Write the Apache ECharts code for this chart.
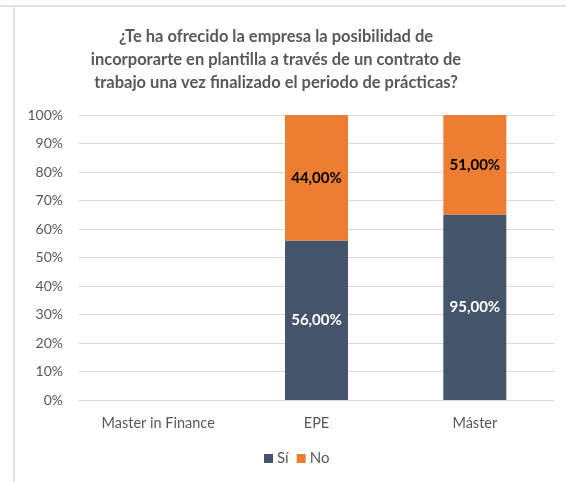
<!DOCTYPE html>
<html>
<head>
<meta charset="utf-8">
<script src="https://cdn.jsdelivr.net/npm/echarts@6/dist/echarts.min.js"></script>
<style>
  html, body { margin: 0; padding: 0; background: #fff; }
  #chart { width: 566px; height: 482px; }
</style>
</head>
<body>
<div id="chart"></div>
<script>
const titleText = '¿Te ha ofrecido la empresa la posibilidad de\nincorporarte en plantilla a través de un contrato de\ntrabajo una vez finalizado el periodo de prácticas?'
const categories = ['Master in Finance', 'EPE', 'Máster']
const siValues = [0, 56, 95]
const noValues = [0, 44, 51]
const seriesNames = ['Sí', 'No']

const FONT = 'Lato, "Open Sans", sans-serif'
const GREY = '#595959'

// el gráfico es 100% apilado: la altura es la cuota, la etiqueta el valor original
function share(v, i) {
  const total = siValues[i] + noValues[i]
  return total ? v / total * 100 : 0
}

function pct(v) {
  return v.toFixed(2).replace('.', ',') + '%'
}

function buildData(values, labelColor) {
  return values.map((v, i) => ({
    value: share(v, i),
    raw: v,
    label: { show: v > 0, color: labelColor }
  }))
}

const chart = echarts.init(document.getElementById('chart'))

const barLabel = {
  position: 'inside',
  fontWeight: 'bold',
  fontSize: 15,
  fontFamily: FONT,
  formatter: p => pct(p.data.raw)
}

chart.setOption({
  animation: false,
  textStyle: { fontFamily: FONT },
  title: {
    text: titleText,
    left: 271,
    top: 20,
    textAlign: 'center',
    textStyle: { fontSize: 16.5, fontWeight: 'bold', color: GREY, lineHeight: 23, fontFamily: FONT }
  },
  legend: {
    data: seriesNames,
    bottom: 11,
    left: 259,
    itemWidth: 9,
    itemHeight: 9,
    itemGap: 8,
    icon: 'rect',
    textStyle: { fontSize: 15, color: GREY, fontFamily: FONT, padding: [0, 0, 0, -1] }
  },
  grid: { left: 79, right: 12, top: 115, bottom: 82, containLabel: false },
  xAxis: {
    type: 'category',
    data: categories,
    axisLine: { lineStyle: { color: '#d9d9d9' } },
    axisTick: { show: false },
    axisLabel: { color: GREY, fontSize: 14.5, margin: 16, fontFamily: FONT }
  },
  yAxis: {
    type: 'value',
    min: 0,
    max: 100,
    interval: 10,
    axisLine: { show: false },
    axisTick: { show: false },
    axisLabel: { formatter: '{value}%', color: GREY, fontSize: 14, margin: 16, fontFamily: FONT },
    splitLine: { lineStyle: { color: '#d9d9d9' } }
  },
  series: [
    {
      name: seriesNames[0],
      type: 'bar',
      stack: 'total',
      barWidth: 63,
      itemStyle: { color: '#44546a' },
      label: barLabel,
      data: buildData(siValues, '#ffffff')
    },
    {
      name: seriesNames[1],
      type: 'bar',
      stack: 'total',
      barWidth: 63,
      itemStyle: { color: '#ed7d31' },
      label: barLabel,
      data: buildData(noValues, '#000000')
    }
  ],
  graphic: [
    { type: 'line', shape: { x1: 0, y1: 6, x2: 566, y2: 6 }, style: { stroke: '#e3e3e3', lineWidth: 2 } },
    { type: 'line', shape: { x1: 14, y1: 6, x2: 14, y2: 482 }, style: { stroke: '#e3e3e3', lineWidth: 2 } }
  ]
})

window.addEventListener('resize', () => chart.resize())
</script>
</body>
</html>
